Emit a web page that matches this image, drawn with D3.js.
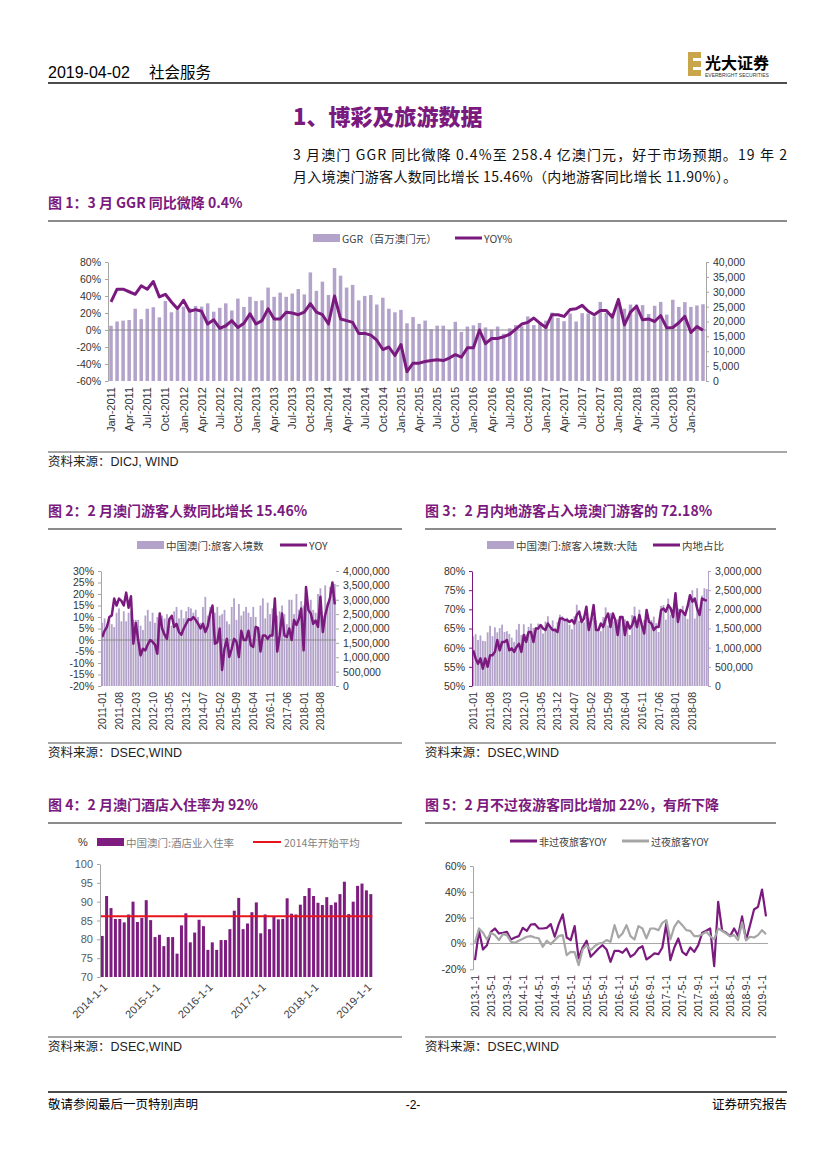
<!DOCTYPE html>
<html lang="zh-CN">
<head>
<meta charset="UTF-8">
<title>博彩及旅游数据</title>
<style>
  body { margin: 0; background: #fff; }
  svg { display: block; }
</style>
</head>
<body>
<svg id="page" width="827" height="1169"></svg>
<script src="https://d3js.org/d3.v7.min.js"></script>
<script>
// ---------- data ----------
const MON = ["Jan","Feb","Mar","Apr","May","Jun","Jul","Aug","Sep","Oct","Nov","Dec"];
function months(y0, n, fmt) {
  return d3.range(n).map(i => fmt(y0 + Math.floor(i / 12), i % 12 + 1));
}
// chart 1: GGR (MOP mn) and YOY %
const ggrMonths = months(2011, 99, (y, m) => MON[m - 1] + "-" + y);
const ggrValues = [
  18570, 20000, 20300, 20500, 24300, 20800, 24300, 24800, 21400, 26900, 23100, 23800,
  25000, 24500, 25200, 25000, 26100, 23300, 24600, 26100, 23700, 27700, 24900, 28300,
  26900, 27100, 31400, 28300, 29700, 28300, 29400, 30900, 29100, 36500, 30300, 33400,
  28900, 38000, 35400, 31400, 32300, 27100, 28600, 28900, 25700, 28000, 24300, 23100,
  23900, 19400, 21500, 19200, 20300, 17400, 18600, 18600, 17200, 19900, 16500, 18300,
  18700, 19500, 18000, 17300, 18300, 15900, 17700, 18800, 18400, 21700, 18800, 19800,
  20300, 23000, 21200, 20100, 22700, 20000, 22800, 22700, 21700, 26600, 22900, 22800,
  26300, 24300, 25700, 25700, 25500, 22500, 25300, 26600, 22300, 27300, 24900, 26500,
  24900, 25400, 25800
];
const ggrYoy = [
  33, 48, 48, 45, 42, 52, 48, 57, 39, 42, 33, 25,
  35, 22, 24, 22, 7, 12, 2, 5, 11, 3, 8, 19,
  7, 11, 25, 13, 13, 21, 20, 18, 21, 31, 21, 18,
  7, 40, 13, 11, 9, -4, -4, -6, -12, -23, -20, -30,
  -17, -49, -39, -39, -37, -36, -35, -36, -33, -29, -32, -21,
  -21, 0, -16, -10, -10, -8, -5, 1, 7, 9, 14, 8,
  3, 18, 18, 16, 24, 25, 29, 22, 18, 23, 23, 15,
  36, 6, 21, 28, 12, 13, 10, 17, 2.5, 3, 8.5, 16,
  -3, 4, -0.4
];
// chart 2: visitor arrivals (millions) and YOY %
const visMonths = months(2011, 98, (y, m) => y + "-" + String(m).padStart(2, "0"));
const visArrivals = [
  2.20, 2.35, 2.15, 2.30, 2.15, 2.05, 2.55, 2.70, 2.25, 2.60, 2.25, 2.55,
  2.60, 2.30, 2.30, 2.30, 2.10, 1.95, 2.45, 2.65, 2.25, 2.55, 2.20, 2.40,
  2.55, 2.45, 2.35, 2.50, 2.30, 2.10, 2.60, 2.75, 2.35, 2.65, 2.35, 2.60,
  2.75, 2.70, 2.55, 2.65, 2.40, 2.20, 2.75, 3.10, 2.45, 2.75, 2.45, 2.55,
  2.75, 2.45, 2.50, 2.65, 2.25, 2.15, 2.75, 3.05, 2.30, 2.85, 2.45, 2.60,
  2.75, 2.55, 2.40, 2.75, 2.40, 2.05, 2.80, 3.05, 2.35, 2.90, 2.50, 2.70,
  2.85, 2.45, 2.60, 2.80, 2.50, 2.15, 3.00, 3.00, 2.50, 3.20, 2.65, 2.95,
  2.80, 3.10, 2.85, 3.00, 2.65, 2.55, 3.20, 3.40, 2.45, 3.50, 2.90, 3.45,
  3.60, 3.55
];
const visYoy = [
  1.3, 4, 5.7, 10, 10.7, 18, 15, 18, 17, 15, 20.6, 14,
  19, -1.6, 7.4, 0, -6.7, -3.8, -4.5, -2, 0, -0.8, -2, -6,
  11.5, 5, 2.3, 0.5, 9, 10.5, 5.7, 7, 3.5, 2.3, 5, 7,
  9, 8.7, 10, 8.7, 7, 5, 7, 3.5, 6, 11.5, 15, -1.6,
  -1, 5, -13, -3.8, 0.5, -7.4, -3.8, 0.5, -0.8, -7.4, 4, 0,
  0, 4, -2.3, -3, 5.7, 5.3, -5, 2, 2, 0.5, 2, 2,
  18, -5, 2, 11.5, 2, 1.3, 5, 0, 8.7, 6.5, 9, 13.7,
  -4.5, 23, 13, 11.5, 7, 8.5, 5.7, 18.8, 3.5, 10.8, 15, 18.3,
  25, 15.46
];
// chart 3: mainland visitors (millions) and mainland share %
const mainland = [
  1.30, 1.35, 1.20, 1.32, 1.18, 1.17, 1.40, 1.57, 1.30, 1.53, 1.40, 1.51,
  1.60, 1.41, 1.43, 1.36, 1.26, 1.15, 1.47, 1.62, 1.33, 1.61, 1.35, 1.54,
  1.63, 1.51, 1.53, 1.63, 1.52, 1.37, 1.68, 1.82, 1.54, 1.71, 1.52, 1.67,
  1.86, 1.82, 1.71, 1.78, 1.60, 1.48, 1.82, 2.12, 1.70, 1.83, 1.66, 1.80,
  1.78, 1.65, 1.78, 1.71, 1.45, 1.43, 1.80, 2.05, 1.58, 1.90, 1.69, 1.75,
  1.74, 1.73, 1.63, 1.74, 1.60, 1.33, 1.85, 2.07, 1.54, 1.99, 1.65, 1.72,
  1.99, 1.63, 1.72, 1.81, 1.64, 1.41, 2.09, 2.11, 1.73, 2.28, 1.86, 2.01,
  2.08, 2.03, 1.99, 2.09, 1.82, 1.75, 2.26, 2.50, 1.76, 2.55, 2.04, 2.36,
  2.55, 2.53
];
const mainlandShare = [
  59.3, 57.2, 55.8, 57.2, 54.5, 57.2, 55.0, 58.0, 58.0, 58.9, 62.0, 59.3,
  61.5, 61.5, 62.0, 59.3, 59.8, 58.9, 60.2, 61.0, 58.9, 63.3, 61.5, 64.1,
  64.1, 61.5, 65.0, 65.0, 65.9, 65.0, 64.6, 66.3, 65.4, 64.6, 64.6, 64.1,
  67.6, 67.6, 67.2, 67.2, 66.7, 67.2, 66.3, 68.5, 69.4, 66.7, 67.6, 70.7,
  64.6, 67.2, 71.1, 64.6, 64.6, 66.3, 65.4, 67.6, 68.9, 65.4, 68.9, 67.2,
  63.3, 68.0, 68.0, 63.3, 66.7, 65.0, 65.9, 68.0, 65.4, 68.5, 65.9, 63.7,
  69.8, 66.7, 66.3, 64.6, 65.4, 65.4, 69.8, 70.2, 69.4, 71.1, 70.2, 68.0,
  74.2, 66.7, 69.8, 69.4, 68.5, 70.7, 73.7, 72.0, 72.8, 70.2, 68.5, 72.8,
  72.5, 72.18
];
// chart 4: hotel occupancy %
const hotelMonths = months(2014, 62, (y, m) => y + "-" + m + "-1");
const hotelRate = [
  80.9, 91.5, 88.3, 85.4, 85.4, 84.5, 86.6, 90.0, 84.6, 85.7, 90.4, 85.1,
  80.6, 81.2, 78.2, 80.6, 80.6, 76.2, 83.7, 86.9, 79.2, 81.8, 85.2, 83.5,
  77.2, 79.2, 77.2, 79.8, 79.8, 82.7, 87.6, 91.0, 82.7, 84.2, 87.2, 89.8,
  81.6, 86.6, 82.7, 86.2, 85.3, 85.4, 90.9, 86.8, 86.6, 89.2, 91.5, 93.6,
  91.5, 89.7, 89.1, 91.2, 89.1, 89.8, 92.0, 95.3, 86.7, 90.0, 94.2, 94.8,
  93.0, 92.0
];
const hotelAvg = 86.1;
// chart 5: same-day vs overnight visitors YOY %
const dayMonths = months(2013, 74, (y, m) => y + "-" + m + "-1");
const sameDayYoy = [
  -12.9, 9.8, -4.6, -1.3, 9, 11.6, 7.7, 8.3, 9, 3.1, 4.6, 5.7,
  12.1, 9.8, 14.7, 15, 11.6, 11.6, 12.1, 15, 5.2, 15, 22.6, 4.6,
  2.6, 13.4, -11.6, -3.1, 2.1, -10.3, -7.2, -3.9, -1.3, -4.6, -14.2, -5.7,
  -5.7, -7.2, -3.9, -10.3, -8.3, -3.9, -2.1, -12.4, -10.3, -7.7, -8.3, -3.1,
  15.5, -12.9, -3.1, 3.9, -6.5, -9, -3.1, -6.5, -1.3, 8.3, 9.8, 11.6,
  -17.5, 32.3, 9.8, 8.3, 5.7, 11.6, 5.7, 21, 2.6, 14.2, 26.3, 28.4,
  41.8, 21
];
const overnightYoy = [
  0.5, 11.6, 8.3, 3.1, 8.3, 6.5, 2.6, 7.2, 6.5, 1.3, 0.5, 2.1,
  3.6, 5.2, 5.7, 4.6, 3.9, -2.6, 2.1, -0.5, 2.6, 5.7, 6.5, -9,
  -6.5, -6.7, -16.8, -4.6, -1.3, -5.2, -2.1, 0, 0.5, 2.6, 1.3, 14.2,
  4.6, 7.7, 14.2, 5.7, 3.1, 13.4, 11.6, 3.9, 11.6, 11.6, 10.3, 16,
  18.1, 3.1, 12.9, 17.5, 14.2, 10.3, 9.8, 5.7, 5.7, 7.2, 9, 5.7,
  3.1, 11.6, 9.8, 7.7, 5.7, 6.5, 2.6, 16.3, 2.6, 5.2, 4.6, 6.5,
  10.3, 7.2
];

// ---------- styles ----------
const PURPLE = "#7B1A7E", LILAC = "#B3A2C9", DARKBAR = "#7E1C80", AXC = "#A6A6A6", TXT = "#404040";
const CN = '"Noto Sans CJK SC", sans-serif';
const EN = '"Liberation Sans", Arial, "Noto Sans CJK SC", sans-serif';
const svg = d3.select("#page");
svg.append("rect").attr("width", 827).attr("height", 1169).attr("fill", "#fff");

function txt(x, y, s, o = {}) {
  return svg.append("text").attr("x", x).attr("y", y).text(s)
    .attr("font-family", o.ff || EN).attr("font-size", o.fs || 12)
    .attr("font-weight", o.fw || "normal").attr("fill", o.fill || "#000")
    .attr("text-anchor", o.anchor || "start");
}
function hline(x1, x2, y, color, w) {
  svg.append("line").attr("x1", x1).attr("x2", x2).attr("y1", y).attr("y2", y)
    .attr("stroke", color).attr("stroke-width", w);
}
function figTitle(x, y, s, x2) {
  txt(x, y, s, { ff: CN, fs: 14, fw: "bold", fill: PURPLE });
  hline(x, x2, y + 13, "#8c8c8c", 2);
}
function source(x, y, s, x2) {
  hline(x, x2, y - 10, "#222", 0.8);
  const t = txt(x, y + 4, "", { ff: CN, fs: 12.5, fill: "#222" });
  t.append("tspan").text("资料来源：");
  t.append("tspan").attr("font-family", EN).text(s);
}
function legBar(x, y, color, label, fs, fill) {
  svg.append("rect").attr("x", x).attr("y", y - 4).attr("width", 27).attr("height", 8).attr("fill", color);
  txt(x + 29, y, label, { ff: CN, fs: fs, fill: fill || TXT }).attr("dominant-baseline", "central");
}
function legLine(x, y, color, label, fs, fill) {
  hline(x, x + 27, y, color, 3);
  txt(x + 29, y, label, { ff: CN, fs: fs, fill: fill || TXT }).attr("dominant-baseline", "central");
}
function yAxis(g, scale, side, x, ticks, fmt, fs, lineColor) {
  const ax = (side === "left" ? d3.axisLeft(scale) : d3.axisRight(scale))
    .tickValues(ticks).tickFormat(fmt).tickSizeOuter(0).tickSizeInner(3).tickPadding(4);
  const a = g.append("g").attr("transform", `translate(${x},0)`).call(ax)
    .attr("font-size", null).attr("font-family", null);
  a.select(".domain").attr("stroke", lineColor);
  a.selectAll(".tick line").attr("stroke", lineColor === "none" ? AXC : lineColor);
  a.selectAll(".tick text").attr("fill", "#333").attr("font-size", fs).attr("font-family", EN);
  return a;
}

// ---------- header ----------
txt(48, 78, "2019-04-02", { fs: 16 });
txt(149, 78, "社会服务", { ff: CN, fs: 15.5 });
hline(48, 787, 83, "#111", 1.6);
svg.append("rect").attr("x", 688).attr("y", 52).attr("width", 13).attr("height", 24).attr("fill", "#C9A64B");
svg.append("rect").attr("x", 693).attr("y", 58).attr("width", 8).attr("height", 3).attr("fill", "#fff");
svg.append("rect").attr("x", 693).attr("y", 67).attr("width", 8).attr("height", 3).attr("fill", "#fff");
txt(705, 69, "光大证券", { ff: CN, fs: 16, fw: "bold" });
txt(705, 77, "EVERBRIGHT SECURITIES", { fs: 5, fill: "#333" });

txt(293, 125, "1、博彩及旅游数据", { ff: CN, fs: 22, fw: "900", fill: PURPLE });
txt(293, 160, "3 月澳门 GGR 同比微降 0.4%至 258.4 亿澳门元，好于市场预期。19 年 2", { ff: CN, fs: 14, fill: "#111" })
  .attr("textLength", 494).attr("lengthAdjust", "spacing");
txt(293, 182, "月入境澳门游客人数同比增长 15.46%（内地游客同比增长 11.90%）。", { ff: CN, fs: 14, fill: "#111" })
  .attr("textLength", 444).attr("lengthAdjust", "spacing");

// ---------- combo bar + line chart ----------
function combo(o) {
  const g = svg.append("g");
  const x = d3.scaleBand().domain(o.cats).range([o.x0, o.x1]).paddingInner(o.pad).paddingOuter(o.pad / 2);
  const yL = d3.scaleLinear().domain(o.lDom).range([o.yB, o.yT]);
  const yR = d3.scaleLinear().domain(o.rDom).range([o.yB, o.yT]);
  g.selectAll("rect.bar").data(o.bars).join("rect").attr("class", "bar")
    .attr("x", (d, i) => x(o.cats[i])).attr("width", x.bandwidth())
    .attr("y", d => yR(d)).attr("height", d => o.yB - yR(d)).attr("fill", LILAC);
  if (o.zero) {
    g.append("line").attr("x1", o.x0).attr("x2", o.x1).attr("y1", yL(0)).attr("y2", yL(0))
      .attr("stroke", "#8c8c8c").attr("stroke-width", 1);
  }
  const cx = i => x(o.cats[i]) + x.bandwidth() / 2;
  g.append("path").datum(o.line)
    .attr("d", d3.line().x((d, i) => cx(i)).y(d => yL(d)))
    .attr("fill", "none").attr("stroke", PURPLE).attr("stroke-width", o.lw)
    .attr("stroke-linejoin", "round");
  yAxis(g, yL, "left", o.x0, o.lTicks, o.lFmt, o.fs, o.lAxis);
  yAxis(g, yR, "right", o.x1, o.rTicks, o.rFmt, o.fs, o.rAxis);
  g.selectAll("text.xl").data(o.cats.filter((c, i) => i % o.every === 0)).join("text")
    .attr("class", "xl")
    .attr("transform", d => `translate(${x(d) + x.bandwidth() / 2},${o.yB + o.lblGap}) rotate(-90)`)
    .attr("text-anchor", "end").attr("dominant-baseline", "central")
    .attr("font-family", EN).attr("font-size", o.xfs).attr("fill", "#333").text(d => d);
}

// chart 1
figTitle(48, 208, "图 1：3 月 GGR 同比微降 0.4%", 787);
legBar(313, 238, LILAC, "GGR（百万澳门元）", 10.5);
legLine(455, 238, PURPLE, "YOY%", 10.5);
combo({
  cats: ggrMonths, bars: ggrValues, line: ggrYoy, x0: 108, x1: 706, yT: 262, yB: 381, pad: 0.42,
  lDom: [-60, 80], rDom: [0, 40000], lTicks: d3.range(-60, 81, 20), lFmt: d => d + "%",
  rTicks: d3.range(0, 40001, 5000), rFmt: d3.format(","), fs: 10.5, lw: 3, zero: true,
  lAxis: AXC, rAxis: AXC, every: 3, lblGap: 6, xfs: 11
});
source(48, 462, "DICJ, WIND", 787);

// chart 2
figTitle(48, 516, "图 2：2 月澳门游客人数同比增长 15.46%", 402);
legBar(137, 545, LILAC, "中国澳门:旅客入境数", 10.5);
legLine(280, 545, PURPLE, "YOY", 10.5);
combo({
  cats: visMonths, bars: visArrivals, line: visYoy, x0: 101, x1: 336, yT: 571, yB: 686, pad: 0.25,
  lDom: [-20, 30], rDom: [0, 4], lTicks: d3.range(-20, 31, 5), lFmt: d => d + "%",
  rTicks: d3.range(0, 4.01, 0.5), rFmt: d => d3.format(",")(Math.round(d * 1e6)), fs: 10.5, lw: 2.5, zero: true,
  lAxis: AXC, rAxis: "none", every: 7, lblGap: 6, xfs: 10.5
});
source(48, 753, "DSEC,WIND", 402);

// chart 3
figTitle(425, 516, "图 3：2 月内地游客占入境澳门游客的 72.18%", 776);
legBar(487, 545, LILAC, "中国澳门:旅客入境数:大陆", 10.5);
legLine(653, 545, PURPLE, "内地占比", 10.5);
combo({
  cats: visMonths, bars: mainland, line: mainlandShare, x0: 472, x1: 708, yT: 571, yB: 686, pad: 0.25,
  lDom: [50, 80], rDom: [0, 3], lTicks: d3.range(50, 81, 5), lFmt: d => d + "%",
  rTicks: d3.range(0, 3.01, 0.5), rFmt: d => d3.format(",")(Math.round(d * 1e6)), fs: 10.5, lw: 2.5, zero: false,
  lAxis: PURPLE, rAxis: LILAC, every: 7, lblGap: 6, xfs: 10.5
});
source(425, 753, "DSEC,WIND", 776);

// ---------- chart 4: hotel occupancy ----------
figTitle(48, 810, "图 4：2 月澳门酒店入住率为 92%", 402);
txt(78, 846, "%", { fs: 11, fill: "#333" });
legBar(97, 842, DARKBAR, "中国澳门:酒店业入住率", 10.5, "#7f7f7f");
hline(253, 281, 842, "#E8141B", 2);
txt(284, 842, "2014年开始平均", { ff: CN, fs: 10.5, fill: "#7f7f7f" }).attr("dominant-baseline", "central");
{
  const g = svg.append("g");
  const x = d3.scaleBand().domain(hotelMonths).range([100, 373]).paddingInner(0.32).paddingOuter(0.16);
  const y = d3.scaleLinear().domain([70, 100]).range([977, 864]);
  g.selectAll("rect").data(hotelRate).join("rect")
    .attr("x", (d, i) => x(hotelMonths[i])).attr("width", x.bandwidth())
    .attr("y", d => y(d)).attr("height", d => 977 - y(d)).attr("fill", DARKBAR);
  g.append("line").attr("x1", x(hotelMonths[0])).attr("x2", x(hotelMonths[61]) + x.bandwidth())
    .attr("y1", y(hotelAvg)).attr("y2", y(hotelAvg)).attr("stroke", "#E8141B").attr("stroke-width", 2);
  yAxis(g, y, "left", 100, d3.range(70, 101, 5), d => d, 11, AXC)
    .selectAll(".tick text").attr("fill", "#595959");
  g.selectAll("text.xl").data(hotelMonths.filter((c, i) => i % 12 === 0)).join("text")
    .attr("class", "xl")
    .attr("transform", d => `translate(${x(d) + x.bandwidth() / 2 + 3},${985}) rotate(-45)`)
    .attr("text-anchor", "end").attr("dominant-baseline", "central")
    .attr("font-family", EN).attr("font-size", 11).attr("fill", "#404040").text(d => d);
}
source(48, 1047, "DSEC,WIND", 402);

// ---------- chart 5: same-day / overnight ----------
figTitle(425, 810, "图 5：2 月不过夜游客同比增加 22%，有所下降", 776);
legLine(510, 841, PURPLE, "非过夜旅客YOY", 10);
legLine(622, 841, "#A6A6A6", "过夜旅客YOY", 10);
{
  const g = svg.append("g");
  const x = d3.scaleBand().domain(dayMonths).range([473, 768]);
  const y = d3.scaleLinear().domain([-20, 60]).range([969.3, 866]);
  g.append("line").attr("x1", 473).attr("x2", 768).attr("y1", y(0)).attr("y2", y(0))
    .attr("stroke", "#a6a6a6").attr("stroke-width", 1);
  const line = d3.line().x((d, i) => x(dayMonths[i]) + x.bandwidth() / 2).y(d => y(d));
  g.append("path").datum(sameDayYoy).attr("d", line).attr("fill", "none")
    .attr("stroke", PURPLE).attr("stroke-width", 2.2).attr("stroke-linejoin", "round");
  g.append("path").datum(overnightYoy).attr("d", line).attr("fill", "none")
    .attr("stroke", "#A6A6A6").attr("stroke-width", 2.2).attr("stroke-linejoin", "round");
  yAxis(g, y, "left", 473, d3.range(-20, 61, 20), d => d + "%", 10.5, AXC);
  g.selectAll("text.xl").data(dayMonths.filter((c, i) => i % 4 === 0)).join("text")
    .attr("class", "xl")
    .attr("transform", d => `translate(${x(d) + x.bandwidth() / 2},${975}) rotate(-90)`)
    .attr("text-anchor", "end").attr("dominant-baseline", "central")
    .attr("font-family", EN).attr("font-size", 10.5).attr("fill", "#333").text(d => d);
}
source(425, 1047, "DSEC,WIND", 776);

// ---------- footer ----------
hline(48, 787, 1092, "#111", 1.6);
txt(48, 1109, "敬请参阅最后一页特别声明", { ff: CN, fs: 12.5 });
txt(413, 1109, "-2-", { fs: 12, anchor: "middle" });
txt(787, 1109, "证券研究报告", { ff: CN, fs: 12.5, anchor: "end" });
</script>
</body>
</html>
